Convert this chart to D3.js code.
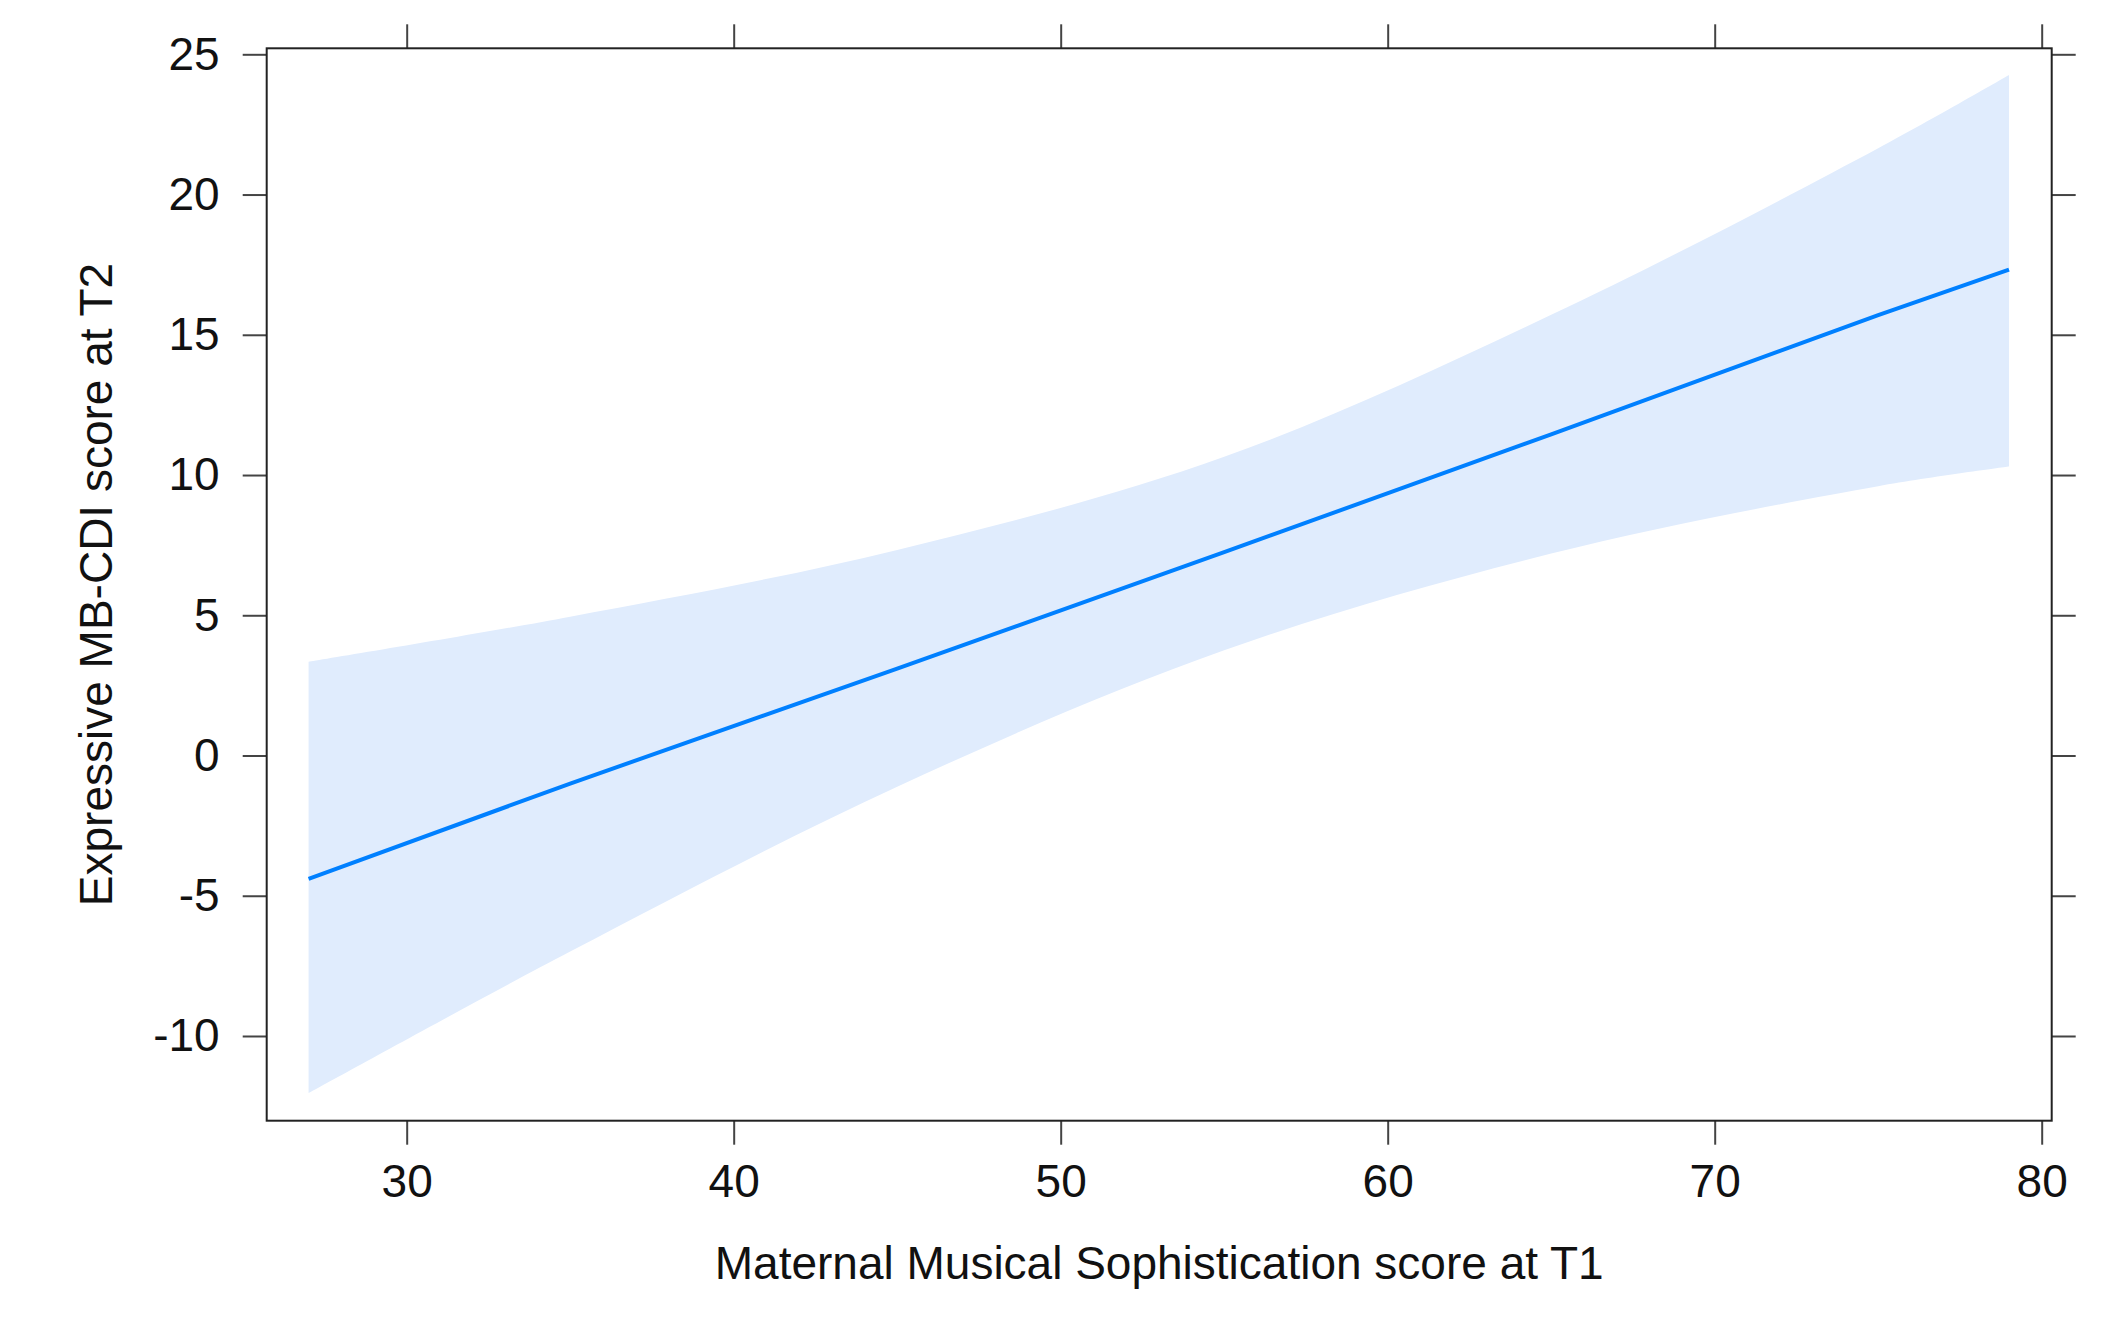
<!DOCTYPE html>
<html>
<head>
<meta charset="utf-8">
<script src="https://cdn.jsdelivr.net/npm/d3@7"></script>
<style>
  html, body { margin: 0; padding: 0; background: #fff; }
  svg { display: block; }
  text { font-family: "Liberation Sans", Arial, Helvetica, sans-serif; fill: #111; }
</style>
</head>
<body>
<svg id="chart" width="2109" height="1319"></svg>
<script>
// ---- data ----
const xPoints   = [27, 35, 45, 55, 65, 75, 79];
const fitValues = [-4.4, -1.0, 3.1, 7.25, 11.45, 15.7, 17.32];
const upperCI   = [3.34, 4.95, 7.33, 10.65, 15.71, 21.65, 24.26];
const lowerCI   = [-12.04, -6.99, -1.11, 3.75, 7.2, 9.6, 10.3];
const xTicks = [30, 40, 50, 60, 70, 80];
const yTicks = [-10, -5, 0, 5, 10, 15, 20, 25];
const xTitle = "Maternal Musical Sophistication score at T1";
const yTitle = "Expressive MB-CDI score at T2";

// ---- layout ----
const plot = { left: 266.7, right: 2051.7, top: 48.3, bottom: 1120.7 };
const fontSize = 46;

const svg = d3.select("#chart");

const x = d3.scaleLinear().domain([25.719, 80.306]).range([plot.left, plot.right]);
const y = d3.scaleLinear().domain([-13.02, 25.214]).range([plot.bottom, plot.top]);

const rows = xPoints.map((v, i) => ({ x: v, fit: fitValues[i], lo: lowerCI[i], hi: upperCI[i] }));

// band
const area = d3.area()
  .x(d => x(d.x))
  .y0(d => y(d.lo))
  .y1(d => y(d.hi))
  .curve(d3.curveCatmullRom.alpha(0.5));
svg.append("path")
  .datum(rows)
  .attr("d", area)
  .attr("fill", "rgb(224,236,253)")
  .attr("stroke", "none");

// fit line
const line = d3.line()
  .x(d => x(d.x))
  .y(d => y(d.fit));
svg.append("path")
  .datum(rows)
  .attr("d", line)
  .attr("fill", "none")
  .attr("stroke", "#0080ff")
  .attr("stroke-width", 4);

// axes (ticks outward on all four sides)
const tickLen = 24;
const fmt = d => String(d);
function styleAxis(g) {
  g.select(".domain").remove();
  g.selectAll(".tick line").attr("stroke", "#444").attr("stroke-width", 2);
  g.selectAll(".tick text")
    .attr("font-size", fontSize)
    .attr("font-family", "'Liberation Sans', Arial, sans-serif")
    .attr("fill", "#111");
}

svg.append("g")
  .attr("transform", `translate(0,${plot.bottom})`)
  .call(d3.axisBottom(x).tickValues(xTicks).tickSize(tickLen).tickSizeOuter(0).tickPadding(20).tickFormat(fmt))
  .call(styleAxis);

svg.append("g")
  .attr("transform", `translate(0,${plot.top})`)
  .call(d3.axisTop(x).tickValues(xTicks).tickSize(tickLen).tickSizeOuter(0).tickFormat(""))
  .call(styleAxis);

svg.append("g")
  .attr("transform", `translate(${plot.left},0)`)
  .call(d3.axisLeft(y).tickValues(yTicks).tickSize(tickLen).tickSizeOuter(0).tickPadding(23).tickFormat(fmt))
  .call(styleAxis);

svg.append("g")
  .attr("transform", `translate(${plot.right},0)`)
  .call(d3.axisRight(y).tickValues(yTicks).tickSize(tickLen).tickSizeOuter(0).tickFormat(""))
  .call(styleAxis);

// frame
svg.append("rect")
  .attr("x", plot.left).attr("y", plot.top)
  .attr("width", plot.right - plot.left).attr("height", plot.bottom - plot.top)
  .attr("fill", "none").attr("stroke", "#222").attr("stroke-width", 2);

// titles
svg.append("text")
  .attr("x", (plot.left + plot.right) / 2)
  .attr("y", 1279)
  .attr("text-anchor", "middle")
  .attr("font-size", fontSize)
  .text(xTitle);

svg.append("text")
  .attr("transform", `translate(112,${(plot.top + plot.bottom) / 2}) rotate(-90)`)
  .attr("text-anchor", "middle")
  .attr("font-size", fontSize)
  .text(yTitle);
</script>
</body>
</html>
